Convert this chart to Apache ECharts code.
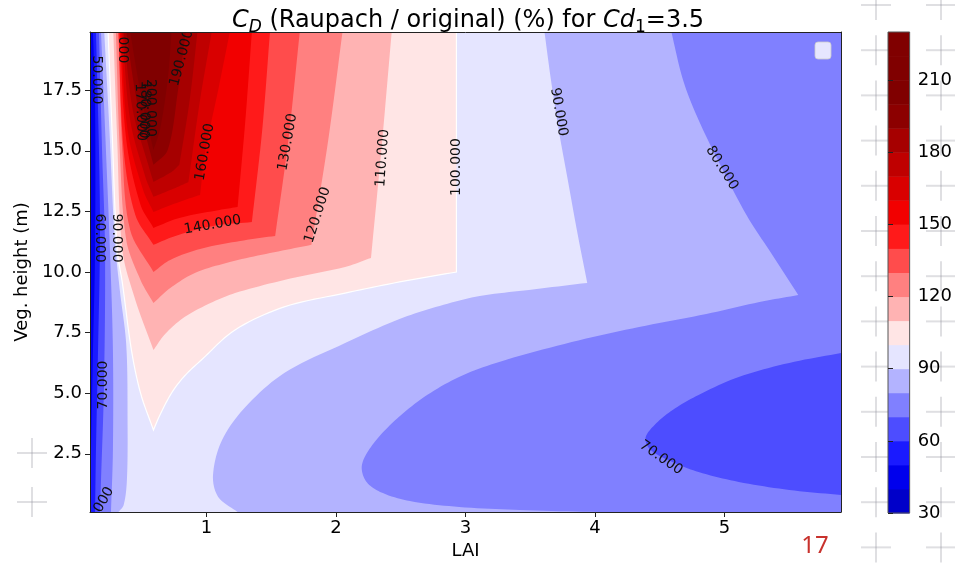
<!DOCTYPE html>
<html>
<head>
<meta charset="utf-8">
<script src="https://cdn.jsdelivr.net/npm/echarts@6/dist/echarts.min.js"></script>
<style>
  html, body { margin: 0; padding: 0; background: #fff; }
  #chart { width: 955px; height: 568px; }
</style>
</head>
<body>
<div id="chart"></div>
<script>
// ---- axis ticks and contour levels ----
const laiTicks = [1, 2, 3, 4, 5];
const heightTicks = [2.5, 5, 7.5, 10, 12.5, 15, 17.5];
const colorbarTicks = [30, 60, 90, 120, 150, 180, 210];
const levels = [30, 40, 50, 60, 70, 80, 90, 100, 110, 120, 130, 140, 150, 160, 170, 180, 190, 200, 210, 220, 230];

// ---- contour paths, [LAI, height(, 1 = sharp vertex)] ----
// levels >= 100: left branch from the top, V tip, right branch back to the top
const cd100 = [[0.24,19.9,1],[0.27,15.86],[0.31,10.91],[0.35,9.55],[0.42,6.78],[0.49,5.01],[0.59,3.48,1],[0.64,4.1],[0.73,5.01],[0.83,5.71],[0.96,6.37],[1.22,7.61],[1.6,8.56],[2.07,9.13],[2.49,9.59],[2.93,10.0,1],[2.93,19.9,1]];
const cd110 = [[0.28,19.9,1],[0.31,15.45],[0.35,10.91],[0.45,8.85],[0.59,6.78,1],[0.68,7.44],[0.83,8.14],[1.03,8.72],[1.22,9.13],[1.6,9.67],[2.07,10.21],[2.27,10.58,1],[2.35,15.03],[2.43,19.9,1]];
const cd120 = [[0.30,19.9,1],[0.33,15.03],[0.38,11.32],[0.49,9.67],[0.59,8.72,1],[0.72,9.34],[0.91,9.96],[1.18,10.41],[1.49,10.78],[1.81,11.12,1],[1.94,15.45],[2.05,19.9,1]];
const cd130 = [[0.32,19.9,1],[0.35,15.03],[0.41,11.73],[0.59,10.0,1],[0.72,10.5],[0.95,10.95],[1.26,11.28],[1.53,11.49,1],[1.63,15.36],[1.72,19.9,1]];
const cd140 = [[0.32,19.9,1],[0.36,15.03],[0.45,12.35],[0.59,11.12,1],[0.76,11.49],[1.05,11.9],[1.35,12.06,1],[1.43,15.86],[1.49,19.9,1]];
const cd150 = [[0.33,19.9,1],[0.38,15.45],[0.49,12.77],[0.59,11.82,1],[0.79,12.23],[1.1,12.56],[1.24,12.68,1],[1.3,16.27],[1.35,19.9,1]];
const cd160 = [[0.34,19.9,1],[0.39,15.86],[0.51,13.38],[0.59,12.48,1],[0.79,12.89],[0.95,13.18,1],[0.99,14.95],[1.09,17.51],[1.18,19.9,1]];
const cd170 = [[0.35,19.9,1],[0.41,16.27],[0.53,13.88],[0.59,13.1,1],[0.76,13.47],[0.86,13.71,1],[0.95,17.1],[1.04,19.9,1]];
const cd180 = [[0.36,19.9,1],[0.43,16.68],[0.55,14.42],[0.59,13.71,1],[0.73,14.13],[0.79,14.42,1],[0.87,17.1],[0.93,19.9,1]];
const cd190 = [[0.38,19.9,1],[0.46,17.1],[0.56,15.03],[0.59,14.42,1],[0.70,15.03],[0.78,17.51],[0.84,19.9,1]];
const cd200 = [[0.41,19.9,1],[0.5,17.1],[0.59,15.03,1],[0.64,15.86],[0.70,17.92],[0.73,19.9,1]];

// levels < 100 along the left edge, top to bottom
const cd90Left = [[0.21,19.9,1],[0.25,15.86],[0.29,11.4],[0.33,9.26],[0.38,6.99],[0.39,3.9],[0.385,1.42],[0.36,0.39],[0.32,0.1,1]];
const cd80Left = [[0.185,19.9,1],[0.223,15.03],[0.254,10.91],[0.277,6.78],[0.277,2.66],[0.262,0.1,1]];
const cd70Left = [[0.169,19.9,1],[0.193,15.03],[0.216,10.91],[0.208,5.34],[0.185,1.42],[0.177,0.1,1]];
const cd60Left = [[0.146,19.9,1],[0.169,15.03],[0.177,11.4],[0.162,6.78],[0.146,2.66],[0.139,0.1,1]];
const cd50Left = [[0.123,19.9,1],[0.139,17.1],[0.139,10.91],[0.123,6.78],[0.108,2.66],[0.1,0.6,1]];

// levels < 100 on the right-hand side
const cd90Right = [[1.24,0.1,1],[1.09,0.72],[1.05,1.63],[1.12,3.07],[1.3,4.43],[1.6,5.83],[2.07,7.07],[2.49,8.06],[2.8,8.6],[3.11,9.01],[3.49,9.26],[3.94,9.55,1],[3.86,11.73],[3.79,13.8],[3.72,15.86],[3.66,17.92],[3.61,19.9,1]];
const cd80Right = [[4.59,19.9,1],[4.68,17.92],[4.8,16.27],[4.98,14.29],[5.17,12.35],[5.37,10.7],[5.57,9.05,1],[5.27,8.76],[4.86,8.27],[4.34,7.73],[3.82,7.11],[3.26,6.29],[2.95,5.67],[2.68,4.84],[2.45,3.85],[2.28,2.86],[2.2,2.04],[2.23,1.38],[2.34,0.93],[2.57,0.55],[2.95,0.31],[3.42,0.18],[4.03,0.1,1]];
const cd70Right = [[5.9,6.66,1],[5.5,6.25],[5.11,5.67],[4.8,4.93],[4.6,4.31],[4.46,3.69],[4.39,3.15],[4.43,2.66],[4.6,2.16],[4.8,1.75],[5.11,1.34],[5.5,1.01],[5.9,0.8,1]];

// inline contour labels: [LAI, height, text, rotation in degrees]
const contourLabels = [
  [0.154, 17.92, '50.000', -90],
  [0.177, 11.4, '60.000', -90],
  [0.308, 11.4, '90.000', -90],
  [0.2, 5.34, '70.000', 90],
  [0.208, 0.6, '000', 60],
  [0.354, 19.16, '000', -90],
  [0.809, 18.83, '190.000', 75],
  [0.57, 16.77, '200.000', -90],
  [0.52, 16.7, '180.000', -92],
  [0.49, 16.6, '170.000', -88],
  [0.987, 14.95, '160.000', 80],
  [1.048, 11.94, '140.000', 10],
  [1.627, 15.36, '130.000', 80],
  [1.858, 12.35, '120.000', 72],
  [2.36, 14.7, '110.000', 86],
  [2.93, 14.33, '100.000', 90],
  [3.72, 16.6, '90.000', -80],
  [4.98, 14.29, '80.000', -58],
  [4.51, 2.33, '70.000', -35]
];

const LAI_MIN = 0.1, LAI_MAX = 5.9, H_MIN = 0.1, H_MAX = 19.9;
const FONT = 'DejaVu Sans';

// matplotlib "seismic" colormap, normalised over 0..200
function seismic(v) {
  const stops = [[0, 0, 0.3], [0, 0, 1], [1, 1, 1], [1, 0, 0], [0.5, 0, 0]];
  const t = Math.max(0, Math.min(1, v / 200)) * 4;
  const i = Math.min(3, Math.floor(t));
  const f = t - i;
  const a = stops[i], b = stops[i + 1];
  const c = a.map((x, k) => Math.round(255 * (x + (b[k] - x) * f)));
  return 'rgb(' + c[0] + ',' + c[1] + ',' + c[2] + ')';
}
const bandColor = lo => seismic(lo + 5);

const leftEdge = path => [[LAI_MIN, H_MAX, 1]].concat(path, [[LAI_MIN, H_MIN, 1]]);
const fullBox = [[LAI_MIN, H_MIN, 1], [LAI_MIN, H_MAX, 1], [LAI_MAX, H_MAX, 1], [LAI_MAX, H_MIN, 1]];

// filled bands, painted in order: superlevel regions upward, then sublevel regions downward
const fillLayers = [
  { lo: 90, pts: fullBox },
  { lo: 100, pts: cd100 }, { lo: 110, pts: cd110 }, { lo: 120, pts: cd120 },
  { lo: 130, pts: cd130 }, { lo: 140, pts: cd140 }, { lo: 150, pts: cd150 },
  { lo: 160, pts: cd160 }, { lo: 170, pts: cd170 }, { lo: 180, pts: cd180 },
  { lo: 190, pts: cd190 }, { lo: 200, pts: cd200 },
  { lo: 80, pts: leftEdge(cd90Left) },
  { lo: 80, pts: cd90Right.concat([[LAI_MAX, H_MAX, 1], [LAI_MAX, H_MIN, 1]]) },
  { lo: 70, pts: leftEdge(cd80Left) },
  { lo: 70, pts: cd80Right.concat([[LAI_MAX, H_MIN, 1], [LAI_MAX, H_MAX, 1]]) },
  { lo: 60, pts: leftEdge(cd70Left) },
  { lo: 60, pts: cd70Right },
  { lo: 50, pts: leftEdge(cd60Left) },
  { lo: 40, pts: leftEdge(cd50Left) }
];

// white 100 % isoline, broken where its label sits
const line100 = [cd100.slice(0, -1).concat([[2.93, 13.3, 1]]), [[2.93, 15.36, 1], [2.93, 19.9, 1]]];

const colorbarBands = levels.slice(0, -1);

// pixel path through the vertices: curved through plain vertices, sharp at flagged ones
function curvePath(pts, api) {
  const px = pts.map(p => api.coord([p[0], p[1]]));
  const sharp = pts.map(p => p[2] === 1);
  const n = px.length;
  if (n < 3) return px;
  const d = (a, b) => Math.hypot(b[0] - a[0], b[1] - a[1]) || 1e-6;
  const out = [];
  for (let i = 0; i < n - 1; i++) {
    const p1 = px[i], p2 = px[i + 1];
    const p0 = (i > 0 && !sharp[i]) ? px[i - 1] : p1;
    const p3 = (i + 2 < n && !sharp[i + 1]) ? px[i + 2] : p2;
    const d12 = d(p1, p2);
    const s1 = d12 / 3 / (d(p0, p1) + d12), s2 = d12 / 3 / (d12 + d(p2, p3));
    const c1 = [p1[0] + (p2[0] - p0[0]) * s1, p1[1] + (p2[1] - p0[1]) * s1];
    const c2 = [p2[0] - (p3[0] - p1[0]) * s2, p2[1] - (p3[1] - p1[1]) * s2];
    out.push(p1);
    const steps = 10;
    for (let k = 1; k < steps; k++) {
      const t = k / steps, u = 1 - t;
      out.push([
        u * u * u * p1[0] + 3 * u * u * t * c1[0] + 3 * u * t * t * c2[0] + t * t * t * p2[0],
        u * u * u * p1[1] + 3 * u * u * t * c1[1] + 3 * u * t * t * c2[1] + t * t * t * p2[1]
      ]);
    }
  }
  out.push(px[n - 1]);
  return out;
}

// faint crosses of the page background
function crosses() {
  const els = [];
  const st = { stroke: 'rgba(150,150,160,0.3)', lineWidth: 2 };
  const add = (cx, cy) => {
    els.push({ type: 'line', shape: { x1: cx - 15, y1: cy, x2: cx + 15, y2: cy }, style: st });
    els.push({ type: 'line', shape: { x1: cx, y1: cy - 15, x2: cx, y2: cy + 15 }, style: st });
  };
  for (let k = 0; k < 13; k++) {
    const cy = 5 + k * 45.2;
    add(876, cy);
    add(941, cy);
  }
  add(32, 453);
  add(32, 502);
  return els;
}

const chart = echarts.init(document.getElementById('chart'));
const titleBase = { fontFamily: FONT, fontWeight: 'normal', color: '#000' };
chart.setOption({
  animation: false,
  backgroundColor: '#fff',
  title: {
    text: '{m|C}{ms|D}{t| (Raupach / original) (%) for }{m|Cd}{s|1}{t|=3.5}',
    left: 463, top: 1, textAlign: 'center',
    textStyle: {
      fontWeight: 'normal',
      rich: {
        m: Object.assign({ fontStyle: 'italic', fontSize: 24, lineHeight: 30 }, titleBase),
        ms: Object.assign({ fontStyle: 'italic', fontSize: 17, lineHeight: 14, verticalAlign: 'bottom' }, titleBase),
        t: Object.assign({ fontSize: 24, lineHeight: 30 }, titleBase),
        s: Object.assign({ fontSize: 17, lineHeight: 14, verticalAlign: 'bottom' }, titleBase)
      }
    }
  },
  graphic: {
    elements: crosses().concat([
      { type: 'rect', shape: { x: 815, y: 42, width: 16, height: 17, r: 3 }, style: { fill: 'rgba(255,255,255,0.8)', stroke: 'rgba(204,204,204,0.8)', lineWidth: 1 }, z: 50 },
      { type: 'text', x: 815, y: 546, style: { text: '17', fill: '#c8322d', font: '24px "Noto Sans"', align: 'center', verticalAlign: 'middle' }, z: 50 }
    ])
  },
  grid: [
    { left: 90, top: 32, width: 751, height: 480 },
    { left: 888, top: 32, width: 23, height: 481 }
  ],
  xAxis: [
    {
      gridIndex: 0, type: 'value', min: LAI_MIN, max: LAI_MAX, z: 10,
      name: 'LAI', nameLocation: 'middle', nameGap: 27,
      nameTextStyle: { fontFamily: FONT, fontSize: 18, color: '#000' },
      axisLine: { show: true, onZero: false, lineStyle: { color: '#222', width: 1 } },
      axisTick: { show: true, length: 5, customValues: laiTicks, lineStyle: { color: '#222' } },
      axisLabel: { customValues: laiTicks, fontFamily: FONT, fontSize: 18, color: '#000', margin: 7 },
      splitLine: { show: false }
    },
    {
      gridIndex: 0, type: 'value', position: 'top', min: LAI_MIN, max: LAI_MAX, z: 10,
      axisLine: { show: true, onZero: false, lineStyle: { color: '#222', width: 1 } },
      axisTick: { show: false }, axisLabel: { show: false }, splitLine: { show: false }
    },
    { gridIndex: 1, type: 'value', min: 0, max: 1, show: false }
  ],
  yAxis: [
    {
      gridIndex: 0, type: 'value', min: H_MIN, max: H_MAX, z: 10,
      name: 'Veg. height (m)', nameLocation: 'middle', nameGap: 56, nameRotate: 90,
      nameTextStyle: { fontFamily: FONT, fontSize: 18, color: '#000' },
      axisLine: { show: true, onZero: false, lineStyle: { color: '#222', width: 1 } },
      axisTick: { show: true, length: 5, customValues: heightTicks, lineStyle: { color: '#222' } },
      axisLabel: { customValues: heightTicks, formatter: v => v.toFixed(1), fontFamily: FONT, fontSize: 18, color: '#000', margin: 8 },
      splitLine: { show: false }
    },
    {
      gridIndex: 0, type: 'value', position: 'right', min: H_MIN, max: H_MAX, z: 10,
      axisLine: { show: true, onZero: false, lineStyle: { color: '#222', width: 1 } },
      axisTick: { show: false }, axisLabel: { show: false }, splitLine: { show: false }
    },
    {
      gridIndex: 1, type: 'value', position: 'right', min: 30, max: 230, z: 10,
      axisLine: { show: false },
      axisTick: { show: true, length: 5, customValues: colorbarTicks, lineStyle: { color: '#222' } },
      axisLabel: { customValues: colorbarTicks, fontFamily: FONT, fontSize: 18, color: '#000', margin: 8 },
      splitLine: { show: false }
    }
  ],
  series: [
    {
      type: 'custom', xAxisIndex: 0, yAxisIndex: 0, clip: true, silent: true, z: 2,
      data: fillLayers.map(() => [1, 1]),
      renderItem: (params, api) => {
        const layer = fillLayers[params.dataIndex];
        return {
          type: 'polygon',
          shape: { points: curvePath(layer.pts, api) },
          style: { fill: bandColor(layer.lo), stroke: null }
        };
      }
    },
    {
      type: 'custom', xAxisIndex: 0, yAxisIndex: 0, clip: true, silent: true, z: 3,
      data: line100.map(() => [1, 1]),
      renderItem: (params, api) => ({
        type: 'polyline',
        shape: { points: curvePath(line100[params.dataIndex], api) },
        style: { fill: null, stroke: '#fff', lineWidth: 1.2 }
      })
    },
    {
      type: 'custom', xAxisIndex: 0, yAxisIndex: 0, clip: true, silent: true, z: 4,
      data: contourLabels.map(d => [d[0], d[1]]),
      renderItem: (params, api) => {
        const d = contourLabels[params.dataIndex];
        const p = api.coord([d[0], d[1]]);
        return {
          type: 'text', x: p[0], y: p[1], rotation: d[3] * Math.PI / 180,
          style: { text: d[2], fill: '#111', font: '14px "DejaVu Sans"', align: 'center', verticalAlign: 'middle' }
        };
      }
    },
    {
      type: 'custom', xAxisIndex: 2, yAxisIndex: 2, silent: true, z: 2,
      data: colorbarBands.map(lo => [0, lo]).concat([[0, 30]]),
      renderItem: (params, api) => {
        if (params.dataIndex === colorbarBands.length) {
          const a = api.coord([0, 230]), b = api.coord([1, 30]);
          return { type: 'rect', shape: { x: a[0], y: a[1], width: b[0] - a[0], height: b[1] - a[1] }, style: { fill: null, stroke: '#555', lineWidth: 1 } };
        }
        const lo = colorbarBands[params.dataIndex];
        const a = api.coord([0, lo + 10]), b = api.coord([1, lo]);
        return { type: 'rect', shape: { x: a[0], y: a[1], width: b[0] - a[0], height: b[1] - a[1] + 0.5 }, style: { fill: bandColor(lo) } };
      }
    }
  ]
});
</script>
</body>
</html>
